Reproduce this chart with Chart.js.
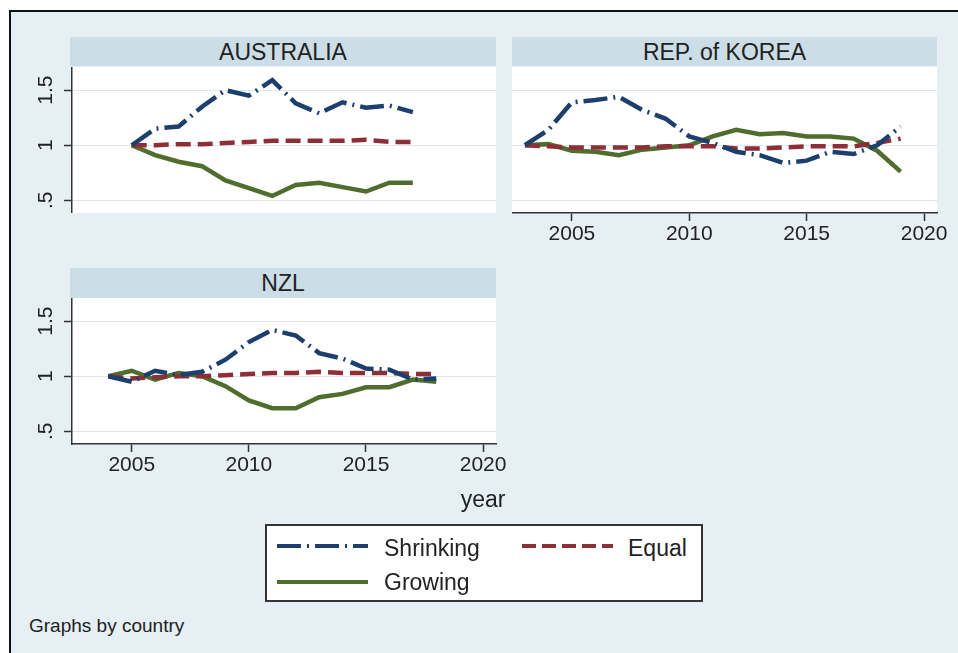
<!DOCTYPE html>
<html>
<head>
<meta charset="utf-8">
<script src="https://cdn.jsdelivr.net/npm/chart.js@4.4.1/dist/chart.umd.min.js"></script>
<style>
  body { margin:0; width:958px; height:653px; position:relative; overflow:hidden; background:#fff;
         font-family:'Liberation Sans', Arial, sans-serif; color:#222; }
  #frame { position:absolute; left:9px; top:10px; width:949px; height:643px; background:#e6eff3;
           border-top:2px solid #111; border-left:2px solid #111; }
  .strip { position:absolute; height:29px; line-height:30px; background:#cbdde6; text-align:center;
           font-size:23px; color:#222; }
  canvas { position:absolute; }
  #legend { position:absolute; left:265px; top:524px; width:434px; height:74px; background:#fff;
            border:2px solid #333; }
  #legend svg { position:absolute; left:0; top:0; }
  #legend span { position:absolute; font-size:23px; line-height:24px; color:#222; }
  .note { position:absolute; }
</style>
</head>
<body>
<div id="frame"></div>

<div class="strip" style="left:70px; top:37px; width:426px;">AUSTRALIA</div>
<div class="strip" style="left:512px; top:37px; width:425px;">REP. of KOREA</div>
<div class="strip" style="left:70px; top:268px; width:426px; height:30px;">NZL</div>

<canvas id="aus" width="476" height="146" style="left:20px; top:67px;"></canvas>
<canvas id="kor" width="445" height="190" style="left:512px; top:67px;"></canvas>
<canvas id="nzl" width="496" height="190" style="left:20px; top:298px;"></canvas>

<div class="note" style="left:433px; top:487px; width:100px; text-align:center; font-size:23px; line-height:24px;">year</div>

<div id="legend">
  <svg width="434" height="74">
    <line x1="10" y1="20" x2="101" y2="20" stroke="#1c3f6e" stroke-width="4" stroke-dasharray="24 6 2 6"/>
    <line x1="255" y1="20" x2="346" y2="20" stroke="#8e2f38" stroke-width="4" stroke-dasharray="14 6"/>
    <line x1="10" y1="56" x2="101" y2="56" stroke="#4f6d2c" stroke-width="4"/>
  </svg>
  <span style="left:117px; top:10px;">Shrinking</span>
  <span style="left:361px; top:10px;">Equal</span>
  <span style="left:117px; top:44px;">Growing</span>
</div>

<div class="note" style="left:29px; top:615px; font-size:19px; line-height:22px;">Graphs by country</div>

<script>
// data
const ausYears = [2005, 2006, 2007, 2008, 2009, 2010, 2011, 2012, 2013, 2014, 2015, 2016, 2017];
const ausShrink = [1.00, 1.15, 1.17, 1.35, 1.50, 1.45, 1.59, 1.38, 1.29, 1.39, 1.34, 1.36, 1.30];
const ausEqual  = [1.00, 1.00, 1.01, 1.01, 1.02, 1.03, 1.04, 1.04, 1.04, 1.04, 1.05, 1.03, 1.03];
const ausGrow   = [1.00, 0.91, 0.85, 0.81, 0.68, 0.61, 0.54, 0.64, 0.66, 0.62, 0.58, 0.66, 0.66];

const korYears = [2003, 2004, 2005, 2006, 2007, 2008, 2009, 2010, 2011, 2012, 2013, 2014, 2015, 2016, 2017, 2018, 2019];
const korShrink = [1.00, 1.14, 1.39, 1.41, 1.44, 1.32, 1.24, 1.08, 1.02, 0.94, 0.91, 0.84, 0.86, 0.94, 0.92, 1.00, 1.17];
const korEqual  = [1.00, 0.99, 0.98, 0.98, 0.98, 0.98, 0.99, 0.99, 0.99, 0.97, 0.97, 0.98, 0.99, 0.99, 0.99, 1.02, 1.06];
const korGrow   = [1.00, 1.01, 0.95, 0.94, 0.91, 0.96, 0.98, 1.00, 1.08, 1.14, 1.10, 1.11, 1.08, 1.08, 1.06, 0.95, 0.76];

const nzlYears = [2004, 2005, 2006, 2007, 2008, 2009, 2010, 2011, 2012, 2013, 2014, 2015, 2016, 2017, 2018];
const nzlShrink = [1.00, 0.95, 1.05, 1.01, 1.04, 1.15, 1.31, 1.42, 1.37, 1.21, 1.16, 1.07, 1.06, 0.97, 0.98];
const nzlEqual  = [1.00, 0.98, 0.99, 1.00, 1.00, 1.01, 1.02, 1.03, 1.03, 1.04, 1.03, 1.03, 1.03, 1.02, 1.02];
const nzlGrow   = [1.00, 1.05, 0.97, 1.03, 1.00, 0.91, 0.78, 0.71, 0.71, 0.81, 0.84, 0.90, 0.90, 0.97, 0.95];

const xTicks = [2005, 2010, 2015, 2020];
const yTicks = [0.5, 1, 1.5];
const yTickLabels = ['.5', '1', '1.5'];

const FONT = 'Liberation Sans, Arial, sans-serif';
const NAVY = '#1c3f6e', MAROON = '#8e2f38', GREEN = '#4f6d2c';

// white plot region
const plotBg = {
  id: 'plotBg',
  beforeDraw(chart) {
    const { ctx, chartArea: a } = chart;
    ctx.save();
    ctx.fillStyle = '#fff';
    ctx.fillRect(a.left, a.top, a.width, a.height);
    ctx.restore();
  }
};

function pts(years, vals) {
  return years.map((y, i) => ({ x: y, y: vals[i] }));
}

function makePanel(id, years, shrink, equal, grow, showX, showY, padRight) {
  new Chart(document.getElementById(id), {
    type: 'line',
    data: {
      datasets: [
        { label: 'Shrinking', data: pts(years, shrink), borderColor: NAVY, borderDash: [24, 6, 2, 6] },
        { label: 'Equal', data: pts(years, equal), borderColor: MAROON, borderDash: [15, 7] },
        { label: 'Growing', data: pts(years, grow), borderColor: GREEN }
      ]
    },
    options: {
      responsive: false,
      animation: false,
      devicePixelRatio: 1,
      layout: { padding: { left: 0, right: padRight, top: 0, bottom: 0 } },
      elements: { point: { radius: 0 }, line: { borderWidth: 4.5, tension: 0, fill: false } },
      plugins: { legend: { display: false }, tooltip: { enabled: false } },
      scales: {
        x: {
          type: 'linear',
          display: showX,
          min: 2002.45,
          max: 2020.55,
          afterBuildTicks: s => { s.ticks = xTicks.map(v => ({ value: v })); },
          ticks: { callback: v => String(v), maxRotation: 0, padding: 1, color: '#222', font: { size: 21, family: FONT } },
          grid: { drawOnChartArea: false, drawTicks: true, tickLength: 8, tickColor: '#333', tickWidth: 1.5 },
          border: { display: true, color: '#333', width: 1.5 },
          afterFit: s => { s.height = showX ? 44 : 0; s.paddingLeft = 0; s.paddingRight = 0; }
        },
        y: {
          type: 'linear',
          min: 0.385,
          max: 1.71,
          afterBuildTicks: s => { s.ticks = yTicks.map(v => ({ value: v })); },
          ticks: {
            display: showY,
            callback: v => yTickLabels[yTicks.indexOf(v)],
            minRotation: 90, maxRotation: 90, crossAlign: 'center', padding: 3,
            color: '#222', font: { size: 21, family: FONT }
          },
          grid: { color: '#dde7ec', lineWidth: 1, drawTicks: showY, tickLength: 8, tickColor: '#333', tickWidth: 1.5 },
          border: { display: showY, color: '#333', width: 1.5 },
          afterFit: s => { s.width = showY ? 52 : 0; s.paddingTop = 0; s.paddingBottom = 0; }
        }
      }
    },
    plugins: [plotBg]
  });
}

makePanel('aus', ausYears, ausShrink, ausEqual, ausGrow, false, true, 0);
makePanel('kor', korYears, korShrink, korEqual, korGrow, true, false, 20);
makePanel('nzl', nzlYears, nzlShrink, nzlEqual, nzlGrow, true, true, 20);
</script>
</body>
</html>
